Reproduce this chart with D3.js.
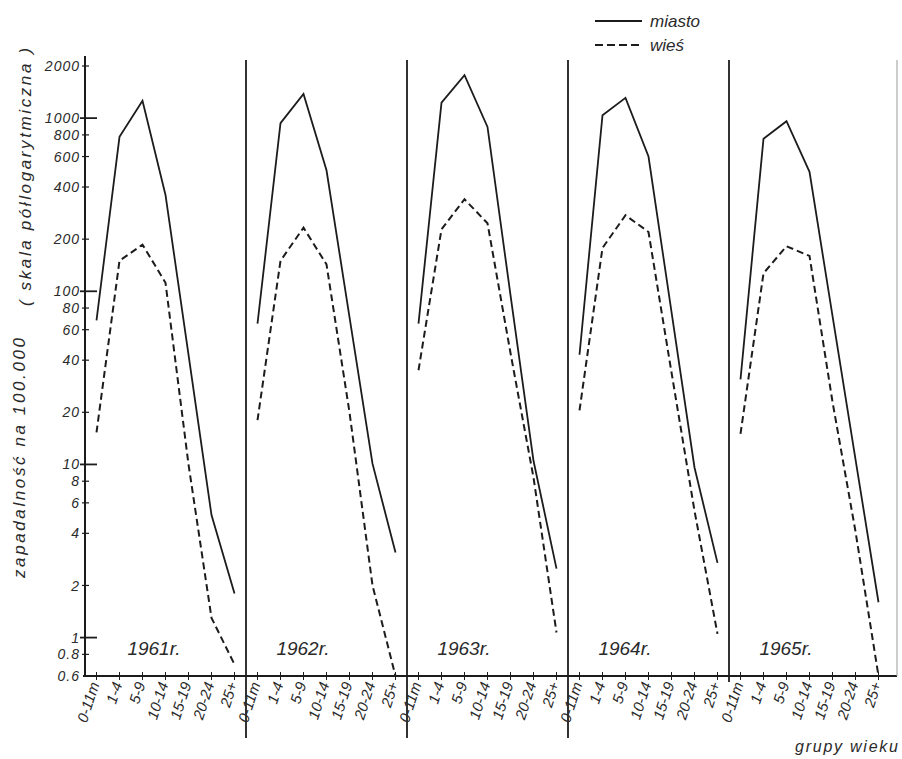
<!DOCTYPE html>
<html>
<head>
<meta charset="utf-8">
<script src="https://cdn.jsdelivr.net/npm/d3@7"></script>
<style>
    body { margin: 0; background: #fff; }
    svg { display: block; }
    text { font-family: "Liberation Sans", Arial, sans-serif; font-style: italic; fill: #2a2a2a; }
</style>
</head>
<body>
<div id="chart"></div>
<script>
/*
    ZAPADALNOSC 1961-1965, miasto / wies, log scale
*/

// age groups on the x axis of every panel
const categories = ["0-11m", "1-4", "5-9", "10-14", "15-19", "20-24", "25+"]
const years = ["1961r.", "1962r.", "1963r.", "1964r.", "1965r."]

// incidence per 100 000, one row per year
const miasto = [
    [68, 780, 1260, 360, 43, 5.1, 1.8],
    [65, 935, 1380, 500, 71, 10.1, 3.1],
    [65, 1230, 1770, 890, 95, 10.5, 2.5],
    [43, 1040, 1310, 600, 76, 9.6, 2.7],
    [31, 760, 960, 490, 72, 10.7, 1.6]
]
const wies = [
    [15.3, 150, 186, 112, 10, 1.3, 0.7],
    [18, 150, 233, 143, 20, 2.0, 0.6],
    [35, 228, 340, 247, 44, 8.4, 1.07],
    [20.5, 178, 275, 220, 34, 5.4, 1.05],
    [15, 127, 182, 160, 23, 4.1, 0.6]
]

const yTicks = [0.6, 0.8, 1, 2, 4, 6, 8, 10, 20, 40, 60, 80, 100, 200, 400, 600, 800, 1000, 2000]
const yMajor = [1, 10, 100, 1000]

const drawChart = () => {
    var width = 902,
        height = 759;
    const margin = ({ top: 66, right: 12, bottom: 83, left: 85 })
    const x0 = margin.left, yBottom = height - margin.bottom

    var svg = d3.select("#chart").append("svg")
        .attr("width", width)
        .attr("height", height)

    // log scale 0.6 .. 2000
    var yScale = d3.scaleLog()
        .domain([0.6, 2000])
        .range([yBottom, margin.top])

    // one band per year, age groups inside
    var panel = d3.scaleBand()
        .domain(years)
        .range([x0, 890])
    var xScale = d3.scalePoint()
        .domain(categories)
        .range([0, panel.bandwidth()])
        .padding(0.5)

    const ink = "#1c1c1c"

    // y axis line + bottom line
    svg.append("line")
        .attr("x1", x0).attr("x2", x0)
        .attr("y1", 56).attr("y2", yBottom)
        .attr("stroke", ink).attr("stroke-width", 2)
    svg.append("line")
        .attr("x1", x0 - 2).attr("x2", 897)
        .attr("y1", yBottom).attr("y2", yBottom)
        .attr("stroke", ink).attr("stroke-width", 2)

    // y ticks, long ones on decades
    svg.append("g").selectAll("line")
        .data(yTicks.filter(d => d > 0.6))
        .enter().append("line")
        .attr("x1", d => yMajor.includes(d) ? x0 - 5 : x0 - 3)
        .attr("x2", d => yMajor.includes(d) ? x0 + 12 : x0 + 4)
        .attr("y1", d => yScale(d))
        .attr("y2", d => yScale(d))
        .attr("stroke", ink)
        .attr("stroke-width", d => yMajor.includes(d) ? 1.8 : 1.2)

    svg.append("g").selectAll("text")
        .data(yTicks)
        .enter().append("text")
        .attr("x", x0 - 5)
        .attr("y", d => yScale(d))
        .attr("dy", "0.36em")
        .attr("text-anchor", "end")
        .style("font-size", "14px")
        .style("letter-spacing", "1px")
        .text(d => String(d))

    // y axis title
    svg.append("text")
        .attr("transform", "translate(25,458) rotate(-90)")
        .attr("text-anchor", "middle")
        .attr("textLength", 240)
        .attr("lengthAdjust", "spacing")
        .style("font-size", "17px")
        .text("zapadalność na 100.000")
    svg.append("text")
        .attr("transform", "translate(31,177) rotate(-90)")
        .attr("text-anchor", "middle")
        .attr("textLength", 258)
        .attr("lengthAdjust", "spacing")
        .style("font-size", "17px")
        .text("( skala półlogarytmiczna )")

    // panel separators
    svg.append("g").selectAll("line")
        .data(years.slice(1))
        .enter().append("line")
        .attr("x1", d => panel(d)).attr("x2", d => panel(d))
        .attr("y1", 60)
        .attr("y2", (d, i) => i < 3 ? 738 : yBottom + 6)
        .attr("stroke", ink).attr("stroke-width", 1.8)
    svg.append("line")
        .attr("x1", 897).attr("x2", 897)
        .attr("y1", 60).attr("y2", yBottom)
        .attr("stroke", "#999").attr("stroke-width", 1)

    var line = d3.line()
        .x(d => d.x)
        .y(d => yScale(Math.max(d.v, 0.6)))

    years.forEach((yr, i) => {
        var g = svg.append("g")
            .attr("transform", `translate(${panel(yr)},0)`)

        // x ticks
        g.selectAll(".xtick")
            .data(categories)
            .enter().append("line")
            .attr("x1", d => xScale(d)).attr("x2", d => xScale(d))
            .attr("y1", yBottom - 4).attr("y2", yBottom + 4)
            .attr("stroke", ink).attr("stroke-width", 1)

        g.selectAll(".xlabel")
            .data(categories)
            .enter().append("text")
            .attr("transform", d => `translate(${xScale(d) + 3},${yBottom + 8}) rotate(-72)`)
            .attr("text-anchor", "end")
            .style("font-size", "15px")
            .text(d => d)

        g.append("path")
            .datum(categories.map((c, j) => ({ x: xScale(c), v: miasto[i][j] })))
            .attr("d", line)
            .attr("fill", "none")
            .attr("stroke", ink)
            .attr("stroke-width", 1.8)

        g.append("path")
            .datum(categories.map((c, j) => ({ x: xScale(c), v: wies[i][j] })))
            .attr("d", line)
            .attr("fill", "none")
            .attr("stroke", ink)
            .attr("stroke-width", 2)
            .attr("stroke-dasharray", "7,4")

        g.append("text")
            .attr("x", i == 0 ? 69 : 57)
            .attr("y", 655)
            .attr("text-anchor", "middle")
            .style("font-size", "19px")
            .text(yr)
    })

    // legend
    var legend = svg.append("g")
    legend.append("line")
        .attr("x1", 595).attr("x2", 642)
        .attr("y1", 21).attr("y2", 21)
        .attr("stroke", ink).attr("stroke-width", 2)
    legend.append("line")
        .attr("x1", 595).attr("x2", 642)
        .attr("y1", 45).attr("y2", 45)
        .attr("stroke", ink).attr("stroke-width", 2)
        .attr("stroke-dasharray", "8,4")
    legend.append("text")
        .attr("x", 650).attr("y", 27)
        .style("font-size", "17px")
        .text("miasto")
    legend.append("text")
        .attr("x", 650).attr("y", 51)
        .style("font-size", "17px")
        .text("wieś")

    svg.append("text")
        .attr("x", 898).attr("y", 752)
        .attr("text-anchor", "end")
        .attr("textLength", 103)
        .attr("lengthAdjust", "spacing")
        .style("font-size", "16px")
        .text("grupy wieku")
}

drawChart()
</script>
</body>
</html>
